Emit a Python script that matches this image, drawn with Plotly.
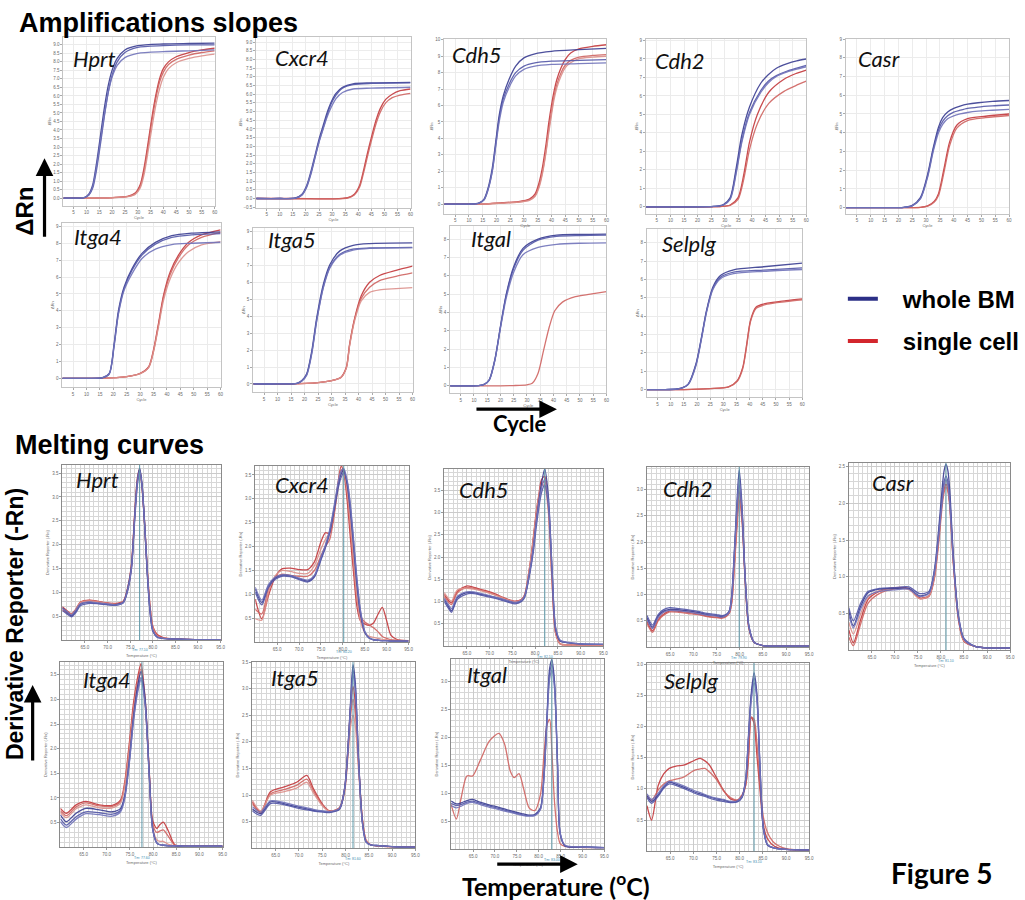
import plotly.graph_objects as go

W, H = 1025, 900

GENES = ["Hprt", "Cxcr4", "Cdh5", "Cdh2", "Casr", "Itga4", "Itga5", "Itgal", "Selplg"]
SERIES = ["whole BM", "single cell"]

# ---------------- Amplification curves (x = cycle, y = ΔRn) ----------------
HPRT_AMP_BX = [1, 5, 9, 11, 12.5, 14, 15.5, 17, 18.5, 20, 22, 25, 30, 40, 50, 60]
HPRT_AMP_BLUE = [
    [0, 0, 0.02, 0.25, 0.8, 2.1, 3.7, 5.3, 6.6, 7.5, 8.2, 8.7, 8.95, 9.05, 9.08, 9.1],
    [0, 0, 0.01, 0.18, 0.6, 1.7, 3.2, 4.8, 6.2, 7.2, 8.0, 8.55, 8.85, 8.95, 9.0, 9.0],
    [0, 0, 0.02, 0.2, 0.7, 1.9, 3.4, 4.9, 6.2, 7.1, 7.8, 8.25, 8.5, 8.6, 8.65, 8.7],
]
HPRT_AMP_RX = [1, 10, 20, 26, 29, 31, 32.5, 34, 35.5, 37, 38.5, 40, 42, 45, 50, 55, 60]
HPRT_AMP_RED = [
    [0, 0, 0.03, 0.1, 0.3, 0.8, 1.8, 3.2, 4.7, 6.0, 7.0, 7.6, 8.0, 8.3, 8.55, 8.7, 8.8],
    [0, 0, 0.02, 0.08, 0.25, 0.7, 1.6, 3.0, 4.5, 5.8, 6.8, 7.4, 7.85, 8.15, 8.4, 8.55, 8.65],
    [0, 0, 0.02, 0.08, 0.22, 0.6, 1.4, 2.7, 4.1, 5.4, 6.4, 7.1, 7.6, 7.95, 8.2, 8.35, 8.45],
]

CXCR4_AMP_BX = [1, 10, 16, 18.5, 20.3, 22, 23.5, 25, 26.6, 28, 29.5, 31.5, 34, 38, 45, 60]
CXCR4_AMP_BLUE = [
    [0, 0, 0.03, 0.25, 0.75, 1.6, 2.5, 3.4, 4.2, 4.9, 5.5, 6.05, 6.4, 6.6, 6.65, 6.68],
    [0, 0, 0.02, 0.2, 0.65, 1.45, 2.35, 3.25, 4.05, 4.75, 5.4, 5.95, 6.35, 6.55, 6.62, 6.65],
    [0, 0, 0.02, 0.2, 0.7, 1.5, 2.4, 3.25, 4.0, 4.65, 5.2, 5.75, 6.1, 6.3, 6.35, 6.4],
]
CXCR4_AMP_RX = [1, 15, 30, 36, 38.5, 40.5, 42, 43.5, 45, 46.8, 48.5, 50.5, 53, 56, 60]
CXCR4_AMP_RED = [
    [0, 0, -0.02, 0.05, 0.25, 0.75, 1.6, 2.6, 3.5, 4.5, 5.2, 5.7, 6.0, 6.2, 6.3],
    [0, -0.02, -0.02, 0.03, 0.2, 0.65, 1.45, 2.4, 3.3, 4.3, 5.0, 5.5, 5.8, 5.95, 6.05],
]

CDH5_AMP_BX = [1, 10, 13.5, 15.5, 17, 18.5, 19.9, 21, 22.5, 24.6, 27, 30, 34, 40, 50, 60]
CDH5_AMP_BLUE = [
    [0, 0, 0.05, 0.3, 1.0, 2.2, 4.0, 5.4, 6.6, 7.6, 8.4, 8.9, 9.15, 9.3, 9.4, 9.48],
    [0, 0, 0.04, 0.25, 0.9, 2.0, 3.8, 5.2, 6.4, 7.3, 8.0, 8.4, 8.6, 8.7, 8.75, 8.8],
    [0, 0, 0.04, 0.25, 0.9, 2.0, 3.7, 5.0, 6.2, 7.1, 7.8, 8.2, 8.4, 8.5, 8.55, 8.6],
]
CDH5_AMP_RX = [1, 15, 22, 28, 32, 34, 35.5, 36.8, 38, 39, 40, 41, 42, 43.5, 45, 47, 50, 55, 60]
CDH5_AMP_RED = [
    [0, 0, 0.08, 0.15, 0.3, 0.6, 1.3, 2.3, 3.6, 4.9, 6.0, 6.9, 7.6, 8.3, 8.8, 9.2, 9.45, 9.6, 9.7],
    [0, 0, 0.06, 0.12, 0.25, 0.5, 1.1, 2.0, 3.2, 4.5, 5.6, 6.6, 7.3, 8.0, 8.45, 8.75, 8.95, 9.05, 9.1],
    [0, 0, 0.06, 0.12, 0.22, 0.45, 1.0, 1.9, 3.1, 4.3, 5.4, 6.4, 7.1, 7.8, 8.3, 8.6, 8.85, 8.95, 9.0],
]

CDH2_AMP_BX = [1, 15, 26, 29.5, 32, 34.2, 36.3, 39.1, 43.3, 46, 49, 53, 56.5, 60]
CDH2_AMP_BLUE = [
    [0, 0, 0.02, 0.12, 0.5, 2.1, 3.9, 5.4, 6.7, 7.15, 7.5, 7.75, 7.9, 8.0],
    [0, 0, 0.02, 0.1, 0.45, 1.9, 3.6, 5.1, 6.3, 6.8, 7.1, 7.35, 7.5, 7.65],
    [0, 0, 0.02, 0.1, 0.4, 1.8, 3.5, 5.0, 6.2, 6.7, 7.05, 7.3, 7.45, 7.58],
]
CDH2_AMP_RX = [1, 20, 29, 32, 34.9, 37, 39.1, 42, 46.2, 51.8, 56, 60]
CDH2_AMP_RED = [
    [0, 0, 0.02, 0.1, 0.5, 1.75, 3.5, 5.0, 6.2, 6.9, 7.2, 7.4],
    [0, 0, 0.02, 0.08, 0.4, 1.5, 3.1, 4.5, 5.6, 6.25, 6.55, 6.8],
]

CASR_AMP_BX = [1, 15, 22, 25, 28, 30.6, 32.6, 34.5, 36, 37.8, 40, 42.3, 45, 48.8, 54, 60]
CASR_AMP_BLUE = [
    [0, 0, 0.02, 0.12, 0.55, 1.8, 3.2, 4.3, 4.8, 5.1, 5.3, 5.42, 5.52, 5.6, 5.67, 5.72],
    [0, 0, 0.02, 0.1, 0.5, 1.7, 3.1, 4.15, 4.6, 4.9, 5.1, 5.2, 5.3, 5.37, 5.43, 5.48],
    [0, 0, 0.02, 0.1, 0.48, 1.65, 3.0, 4.0, 4.45, 4.75, 4.9, 5.0, 5.08, 5.15, 5.2, 5.25],
]
CASR_AMP_RX = [1, 20, 28, 30.6, 33, 34.5, 36.5, 38.5, 41.1, 45, 51.5, 60]
CASR_AMP_RED = [
    [0, 0, 0.02, 0.1, 0.35, 0.75, 2.1, 3.5, 4.4, 4.75, 4.88, 5.0],
    [0, 0, 0.02, 0.08, 0.3, 0.65, 1.9, 3.3, 4.25, 4.65, 4.8, 4.92],
]

ITGA4_AMP_BX = [1, 10, 16, 18.5, 20.3, 21.9, 24, 27, 30.7, 35.7, 41.8, 49.2, 60]
ITGA4_AMP_BLUE = [
    [0, 0, 0.04, 0.3, 2.05, 4.0, 5.4, 6.5, 7.4, 8.05, 8.45, 8.6, 8.68],
    [0, 0, 0.03, 0.25, 1.9, 3.85, 5.3, 6.4, 7.3, 7.95, 8.35, 8.5, 8.57],
    [0, 0, 0.04, 0.28, 1.95, 3.8, 5.2, 6.2, 7.1, 7.65, 7.92, 8.0, 8.06],
]
ITGA4_AMP_RX = [1, 15, 25, 30, 33.2, 35, 36.9, 38.7, 41.2, 44.3, 48, 52.9, 60]
ITGA4_AMP_RED = [
    [0, 0, 0.1, 0.3, 0.7, 1.7, 3.3, 4.9, 6.3, 7.3, 8.05, 8.5, 8.8],
    [0, 0, 0.1, 0.28, 0.65, 1.6, 3.2, 4.8, 6.15, 7.15, 7.9, 8.35, 8.65],
    [0, 0, 0.1, 0.28, 0.65, 1.6, 3.1, 4.6, 5.9, 6.85, 7.5, 7.9, 8.1],
]

ITGA5_AMP_BX = [1, 10, 17.2, 19, 20.8, 22.7, 24.5, 27, 29.4, 33.1, 38, 44.1, 60]
ITGA5_AMP_BLUE = [
    [0, 0, 0.04, 0.2, 0.6, 1.96, 3.9, 5.9, 7.05, 7.85, 8.18, 8.28, 8.32],
    [0, 0, 0.03, 0.18, 0.55, 1.85, 3.75, 5.75, 6.9, 7.65, 7.95, 8.02, 8.06],
    [0, 0, 0.03, 0.17, 0.52, 1.8, 3.7, 5.7, 6.85, 7.6, 7.9, 8.0, 8.04],
]
ITGA5_AMP_RX = [1, 15, 25, 30, 33.5, 35.5, 36.7, 38.6, 41, 44.1, 47.8, 53.9, 60]
ITGA5_AMP_RED = [
    [0, 0, 0.08, 0.2, 0.4, 1.0, 2.35, 3.9, 5.2, 6.0, 6.4, 6.7, 6.95],
    [0, 0, 0.08, 0.2, 0.38, 0.95, 2.3, 3.85, 5.05, 5.7, 6.1, 6.35, 6.55],
    [0, 0, 0.08, 0.2, 0.38, 0.95, 2.25, 3.75, 4.9, 5.4, 5.55, 5.62, 5.68],
]

ITGAL_AMP_BX = [1, 8, 12.3, 14, 15.8, 17.9, 20, 22.2, 25, 28.5, 34.2, 41.2, 50, 60]
ITGAL_AMP_BLUE = [
    [0, 0, 0.03, 0.1, 0.35, 1.45, 3.25, 5.0, 6.5, 7.5, 8.0, 8.22, 8.26, 8.28],
    [0, 0, 0.03, 0.09, 0.32, 1.4, 3.2, 4.95, 6.4, 7.4, 7.95, 8.15, 8.2, 8.22],
    [0, 0, 0.03, 0.1, 0.33, 1.4, 3.15, 4.8, 6.2, 7.15, 7.55, 7.72, 7.78, 7.8],
]
ITGAL_AMP_RX = [1, 15, 25, 30, 32, 34.2, 36.3, 38.4, 40.5, 43.4, 48.3, 53.9, 60]
ITGAL_AMP_RED = [
    [0, 0, 0.02, 0.06, 0.14, 0.69, 1.95, 3.2, 4.1, 4.57, 4.87, 5.0, 5.14],
]

SELPLG_AMP_BX = [1, 8, 12.4, 14.5, 16.7, 19.6, 21.7, 23.6, 26, 28.9, 33.9, 45.3, 60]
SELPLG_AMP_BLUE = [
    [0, 0, 0.03, 0.1, 0.31, 1.4, 2.85, 4.3, 5.58, 6.22, 6.53, 6.7, 6.9],
    [0, 0, 0.03, 0.09, 0.28, 1.35, 2.8, 4.25, 5.5, 6.12, 6.4, 6.52, 6.64],
    [0, 0, 0.02, 0.09, 0.28, 1.3, 2.75, 4.2, 5.45, 6.05, 6.32, 6.45, 6.55],
]
SELPLG_AMP_RX = [1, 15, 25, 32, 35.3, 37.4, 38.9, 40.3, 42.4, 46.7, 53.9, 60]
SELPLG_AMP_RED = [
    [0, 0, 0.05, 0.15, 0.49, 1.22, 2.49, 3.76, 4.49, 4.71, 4.85, 4.95],
    [0, 0, 0.05, 0.14, 0.45, 1.15, 2.4, 3.7, 4.42, 4.66, 4.8, 4.9],
]

# ---------------- Melting curves (x = temperature °C, y = -dRn/dT) ----------------
HPRT_MELT_T = [60, 61, 62, 63, 64, 66, 68, 70, 72, 73.5, 74.5, 75.3, 76, 76.6, 77.1, 77.6, 78.2, 78.8, 79.4, 80, 81, 83, 86, 90, 95]
HPRT_MELT_BLUE = [
    [0.68, 0.59, 0.51, 0.61, 0.75, 0.79, 0.77, 0.75, 0.75, 0.80, 1.10, 1.55, 2.60, 3.35, 3.60, 3.30, 2.45, 1.40, 0.60, 0.20, 0.06, 0.03, 0.02, 0.01, 0.01],
    [0.62, 0.55, 0.49, 0.58, 0.72, 0.77, 0.76, 0.74, 0.73, 0.78, 1.05, 1.50, 2.50, 3.25, 3.52, 3.25, 2.40, 1.35, 0.58, 0.19, 0.06, 0.03, 0.02, 0.01, 0.01],
    [0.66, 0.60, 0.53, 0.63, 0.76, 0.80, 0.78, 0.76, 0.74, 0.79, 1.08, 1.52, 2.55, 3.30, 3.56, 3.28, 2.44, 1.42, 0.62, 0.21, 0.07, 0.03, 0.02, 0.01, 0.01],
]
HPRT_MELT_RED = [
    [0.70, 0.62, 0.55, 0.65, 0.80, 0.84, 0.81, 0.78, 0.77, 0.82, 1.12, 1.60, 2.65, 3.40, 3.58, 3.22, 2.42, 1.45, 0.70, 0.28, 0.12, 0.04, 0.02, 0.01, 0.01],
    [0.64, 0.57, 0.52, 0.62, 0.78, 0.83, 0.80, 0.77, 0.76, 0.80, 1.08, 1.55, 2.58, 3.32, 3.55, 3.24, 2.45, 1.48, 0.72, 0.30, 0.10, 0.03, 0.02, 0.01, 0.01],
    [0.67, 0.60, 0.54, 0.64, 0.79, 0.82, 0.80, 0.77, 0.75, 0.81, 1.10, 1.58, 2.62, 3.36, 3.57, 3.28, 2.40, 1.40, 0.65, 0.25, 0.08, 0.03, 0.02, 0.01, 0.01],
]

CXCR4_MELT_T = [60, 61.5, 63, 64.5, 66, 68, 70, 72, 73.5, 75, 76, 77, 78, 79, 79.6, 80.2, 81, 81.7, 82.4, 83.2, 84, 85, 86, 87, 88, 89, 90, 91, 92.5, 95]
CXCR4_MELT_BLUE = [
    [1.11, 0.83, 1.18, 1.34, 1.40, 1.39, 1.33, 1.28, 1.38, 1.75, 2.00, 2.32, 2.80, 3.32, 3.52, 3.61, 3.30, 2.75, 2.05, 1.20, 0.60, 0.20, 0.08, 0.05, 0.04, 0.03, 0.03, 0.02, 0.02, 0.02],
    [1.05, 0.78, 1.14, 1.31, 1.38, 1.37, 1.31, 1.26, 1.36, 1.72, 1.97, 2.28, 2.75, 3.25, 3.45, 3.55, 3.35, 2.85, 2.15, 1.30, 0.65, 0.22, 0.09, 0.05, 0.04, 0.03, 0.03, 0.02, 0.02, 0.02],
    [1.15, 0.88, 1.20, 1.36, 1.41, 1.40, 1.34, 1.30, 1.40, 1.78, 2.03, 2.35, 2.85, 3.38, 3.58, 3.64, 3.38, 2.90, 2.20, 1.35, 0.68, 0.23, 0.09, 0.05, 0.04, 0.03, 0.03, 0.02, 0.02, 0.02],
]
CXCR4_MELT_RED = [
    [0.90, 0.49, 0.97, 1.35, 1.53, 1.55, 1.52, 1.52, 1.68, 2.10, 2.29, 2.28, 2.70, 3.40, 3.68, 3.55, 2.95, 2.20, 1.50, 0.75, 0.45, 0.38, 0.35, 0.40, 0.58, 0.73, 0.45, 0.14, 0.05, 0.03],
    [0.69, 0.59, 1.11, 1.35, 1.42, 1.40, 1.38, 1.38, 1.50, 1.81, 2.00, 2.15, 2.65, 3.30, 3.60, 3.60, 3.10, 2.40, 1.70, 0.90, 0.55, 0.42, 0.36, 0.30, 0.22, 0.12, 0.08, 0.05, 0.04, 0.03],
    [0.49, 0.46, 1.04, 1.38, 1.50, 1.48, 1.44, 1.44, 1.60, 1.95, 2.15, 2.30, 2.75, 3.35, 3.58, 3.55, 3.15, 2.50, 1.75, 0.95, 0.45, 0.20, 0.12, 0.10, 0.08, 0.06, 0.05, 0.04, 0.03, 0.03],
]

CDH5_MELT_T = [60, 61, 61.6, 62.9, 64.9, 66.5, 68.2, 70.5, 72.4, 74, 75.6, 77, 77.7, 78.9, 79.6, 80.2, 80.8, 81.4, 82.1, 82.9, 83.7, 84.5, 85.5, 87, 90, 95]
CDH5_MELT_BLUE = [
    [1.05, 0.88, 0.79, 1.09, 1.20, 1.20, 1.16, 1.11, 1.06, 1.01, 0.97, 1.02, 1.12, 1.72, 2.20, 2.77, 3.25, 3.66, 3.98, 3.36, 1.72, 0.37, 0.11, 0.08, 0.05, 0.04],
    [1.00, 0.84, 0.76, 1.05, 1.17, 1.18, 1.14, 1.09, 1.04, 0.99, 0.95, 1.00, 1.10, 1.68, 2.12, 2.65, 3.10, 3.45, 3.62, 3.15, 1.70, 0.40, 0.12, 0.08, 0.05, 0.04],
    [1.08, 0.92, 0.84, 1.12, 1.22, 1.22, 1.18, 1.12, 1.07, 1.02, 0.98, 1.03, 1.13, 1.74, 2.22, 2.75, 3.20, 3.55, 3.75, 3.25, 1.75, 0.42, 0.13, 0.09, 0.05, 0.04],
]
CDH5_MELT_RED = [
    [1.16, 1.02, 0.97, 1.23, 1.35, 1.32, 1.27, 1.20, 1.12, 1.05, 1.01, 1.05, 1.16, 1.87, 2.45, 2.99, 3.40, 3.74, 3.81, 3.14, 1.50, 0.30, 0.05, 0.03, 0.03, 0.02],
    [1.12, 0.98, 0.93, 1.20, 1.32, 1.30, 1.25, 1.18, 1.10, 1.04, 1.00, 1.04, 1.14, 1.82, 2.40, 2.92, 3.32, 3.62, 3.70, 3.10, 1.48, 0.28, 0.05, 0.03, 0.03, 0.02],
    [1.20, 1.06, 1.01, 1.26, 1.30, 1.28, 1.24, 1.17, 1.10, 1.04, 1.00, 1.04, 1.15, 1.85, 2.42, 2.95, 3.36, 3.65, 3.58, 3.00, 1.45, 0.29, 0.05, 0.03, 0.03, 0.02],
]

CDH2_MELT_T = [60, 61.2, 62.4, 63.5, 64.9, 67, 68.9, 71, 73, 75, 76.2, 77.2, 77.8, 78.3, 78.8, 79.4, 79.9, 80.5, 81.2, 82, 83.1, 85, 88, 91, 95]
CDH2_MELT_BLUE = [
    [0.56, 0.38, 0.59, 0.68, 0.72, 0.71, 0.69, 0.66, 0.62, 0.60, 0.58, 0.62, 0.69, 1.00, 1.75, 2.75, 3.38, 2.69, 1.31, 0.38, 0.09, 0.03, 0.02, 0.02, 0.02],
    [0.60, 0.42, 0.62, 0.71, 0.75, 0.73, 0.71, 0.68, 0.64, 0.62, 0.60, 0.63, 0.70, 0.98, 1.70, 2.60, 3.10, 2.55, 1.28, 0.40, 0.10, 0.03, 0.02, 0.02, 0.02],
    [0.52, 0.35, 0.56, 0.66, 0.70, 0.69, 0.67, 0.64, 0.61, 0.59, 0.57, 0.61, 0.68, 0.97, 1.68, 2.65, 3.20, 2.62, 1.30, 0.39, 0.09, 0.03, 0.02, 0.02, 0.02],
]
CDH2_MELT_RED = [
    [0.49, 0.31, 0.52, 0.62, 0.69, 0.68, 0.66, 0.63, 0.59, 0.57, 0.56, 0.60, 0.66, 0.87, 1.50, 2.37, 2.97, 2.50, 1.25, 0.35, 0.09, 0.03, 0.02, 0.02, 0.02],
    [0.45, 0.28, 0.50, 0.60, 0.67, 0.66, 0.64, 0.62, 0.58, 0.56, 0.55, 0.59, 0.65, 0.85, 1.45, 2.25, 2.80, 2.38, 1.22, 0.36, 0.09, 0.03, 0.02, 0.02, 0.02],
    [0.53, 0.36, 0.57, 0.66, 0.71, 0.70, 0.68, 0.65, 0.61, 0.59, 0.58, 0.62, 0.68, 0.92, 1.58, 2.50, 3.05, 2.58, 1.28, 0.37, 0.09, 0.03, 0.02, 0.02, 0.02],
]

CASR_MELT_T = [60, 61, 62.6, 64.2, 66.6, 69.8, 73, 75.4, 77.4, 78.6, 79.5, 80.3, 80.7, 81.1, 81.5, 81.9, 82.7, 83.8, 85, 87.4, 90, 95]
CASR_MELT_BLUE = [
    [0.53, 0.33, 0.60, 0.78, 0.83, 0.84, 0.84, 0.74, 0.78, 1.10, 1.64, 2.23, 2.45, 2.53, 2.45, 2.19, 1.28, 0.46, 0.15, 0.05, 0.03, 0.03],
    [0.58, 0.40, 0.64, 0.80, 0.84, 0.85, 0.86, 0.77, 0.80, 1.08, 1.58, 2.10, 2.30, 2.37, 2.30, 2.08, 1.25, 0.47, 0.16, 0.05, 0.03, 0.03],
    [0.48, 0.30, 0.56, 0.74, 0.80, 0.82, 0.83, 0.73, 0.77, 1.06, 1.55, 2.05, 2.25, 2.32, 2.25, 2.02, 1.22, 0.45, 0.15, 0.05, 0.03, 0.03],
]
CASR_MELT_RED = [
    [0.28, 0.10, 0.42, 0.69, 0.80, 0.85, 0.84, 0.71, 0.74, 1.01, 1.51, 2.05, 2.20, 2.26, 2.20, 2.00, 1.19, 0.42, 0.12, 0.05, 0.03, 0.03],
    [0.18, 0.06, 0.36, 0.64, 0.77, 0.83, 0.83, 0.70, 0.73, 0.98, 1.45, 1.98, 2.15, 2.22, 2.16, 1.96, 1.17, 0.42, 0.12, 0.05, 0.03, 0.03],
    [0.38, 0.22, 0.50, 0.72, 0.81, 0.84, 0.83, 0.70, 0.74, 1.02, 1.53, 2.08, 2.25, 2.32, 2.24, 2.04, 1.22, 0.44, 0.13, 0.05, 0.03, 0.03],
]

ITGA4_MELT_T = [60, 61.3, 63.4, 65.5, 68.4, 71.2, 73, 73.9, 74.9, 75.8, 76.8, 77.4, 78.3, 79.2, 79.9, 80.8, 81.5, 82.2, 83.3, 84.7, 87, 90, 95]
ITGA4_MELT_BLUE = [
    [0.66, 0.52, 0.69, 0.79, 0.76, 0.72, 0.79, 1.06, 1.80, 2.67, 3.34, 3.57, 3.00, 1.46, 0.39, 0.09, 0.05, 0.04, 0.03, 0.03, 0.02, 0.02, 0.02],
    [0.58, 0.45, 0.62, 0.72, 0.70, 0.67, 0.75, 1.02, 1.75, 2.60, 3.25, 3.45, 2.92, 1.42, 0.38, 0.09, 0.05, 0.04, 0.03, 0.03, 0.02, 0.02, 0.02],
    [0.52, 0.40, 0.57, 0.68, 0.66, 0.63, 0.72, 0.99, 1.72, 2.58, 3.20, 3.40, 2.88, 1.40, 0.37, 0.09, 0.05, 0.04, 0.03, 0.03, 0.02, 0.02, 0.02],
]
ITGA4_MELT_RED = [
    [0.79, 0.69, 0.86, 0.93, 0.86, 0.85, 0.96, 1.33, 2.13, 2.94, 3.51, 3.73, 3.00, 1.50, 0.55, 0.38, 0.46, 0.51, 0.33, 0.05, 0.02, 0.02, 0.02],
    [0.74, 0.64, 0.82, 0.90, 0.84, 0.83, 0.93, 1.28, 2.05, 2.85, 3.42, 3.62, 2.95, 1.48, 0.48, 0.30, 0.33, 0.35, 0.22, 0.04, 0.02, 0.02, 0.02],
    [0.70, 0.60, 0.78, 0.86, 0.80, 0.80, 0.90, 1.25, 2.00, 2.80, 3.38, 3.55, 2.92, 1.45, 0.42, 0.15, 0.12, 0.12, 0.06, 0.03, 0.02, 0.02, 0.02],
]

ITGA5_MELT_T = [60, 61.8, 63.9, 66.7, 69.5, 71.7, 73.1, 75.2, 76.6, 78.7, 79.8, 80.5, 81.1, 81.6, 82.1, 82.8, 83.6, 84.4, 85.5, 87.2, 90, 95]
ITGA5_MELT_BLUE = [
    [0.74, 0.65, 0.87, 0.84, 0.78, 0.74, 0.71, 0.69, 0.68, 0.74, 1.12, 1.86, 2.79, 3.45, 3.10, 1.68, 0.50, 0.12, 0.06, 0.05, 0.03, 0.02],
    [0.70, 0.62, 0.84, 0.82, 0.76, 0.72, 0.70, 0.68, 0.67, 0.73, 1.10, 1.82, 2.72, 3.35, 3.02, 1.65, 0.50, 0.12, 0.06, 0.05, 0.03, 0.02],
    [0.78, 0.68, 0.89, 0.86, 0.80, 0.76, 0.73, 0.70, 0.69, 0.75, 1.13, 1.84, 2.70, 3.25, 2.95, 1.62, 0.49, 0.12, 0.06, 0.05, 0.03, 0.02],
]
ITGA5_MELT_RED = [
    [0.87, 0.68, 1.06, 1.15, 1.24, 1.37, 1.12, 0.81, 0.70, 0.76, 1.12, 1.86, 2.67, 3.04, 2.73, 1.62, 0.56, 0.15, 0.06, 0.04, 0.03, 0.02],
    [0.84, 0.66, 1.02, 1.10, 1.18, 1.30, 1.08, 0.80, 0.70, 0.75, 1.08, 1.78, 2.50, 2.80, 2.55, 1.55, 0.55, 0.15, 0.06, 0.04, 0.03, 0.02],
    [0.90, 0.70, 1.00, 1.06, 1.13, 1.24, 1.04, 0.78, 0.69, 0.75, 1.05, 1.70, 2.30, 2.50, 2.30, 1.45, 0.53, 0.15, 0.06, 0.04, 0.03, 0.02],
]

ITGAL_MELT_T = [60, 61.2, 62.3, 63.6, 64.9, 66.6, 68.8, 70.9, 72.2, 73.5, 74.4, 75.5, 76.5, 77.8, 79.1, 80.4, 81.2, 81.9, 82.5, 83, 83.6, 84.3, 84.9, 86, 90.3, 95]
ITGAL_MELT_BLUE = [
    [0.86, 0.81, 0.83, 0.87, 0.89, 0.84, 0.79, 0.75, 0.72, 0.69, 0.67, 0.65, 0.63, 0.61, 0.62, 0.74, 1.34, 2.41, 3.24, 3.39, 3.00, 1.52, 0.27, 0.06, 0.04, 0.03],
    [0.82, 0.78, 0.80, 0.84, 0.86, 0.82, 0.77, 0.73, 0.70, 0.67, 0.65, 0.63, 0.61, 0.60, 0.61, 0.72, 1.30, 2.35, 3.15, 3.30, 2.95, 1.50, 0.28, 0.06, 0.04, 0.03],
    [0.78, 0.74, 0.77, 0.82, 0.84, 0.80, 0.75, 0.71, 0.68, 0.66, 0.64, 0.62, 0.60, 0.59, 0.60, 0.71, 1.28, 2.30, 3.05, 3.20, 2.88, 1.48, 0.29, 0.07, 0.04, 0.03],
]
ITGAL_MELT_RED = [
    [0.80, 0.54, 0.92, 1.31, 1.31, 1.58, 1.94, 2.07, 1.88, 1.40, 1.28, 1.35, 1.10, 0.74, 0.69, 0.98, 1.70, 2.23, 2.32, 1.75, 0.85, 0.30, 0.10, 0.05, 0.03, 0.03],
]

SELPLG_MELT_T = [60, 61, 62.4, 63.6, 64.8, 66.5, 67.9, 70.3, 71.5, 72.5, 73.5, 75, 76.5, 78, 79.5, 80.5, 81.3, 81.9, 82.5, 83.1, 83.7, 84.4, 85.1, 86, 87.5, 90, 95]
SELPLG_MELT_BLUE = [
    [0.89, 0.80, 0.90, 1.03, 1.11, 1.07, 1.03, 0.95, 0.92, 0.90, 0.87, 0.84, 0.82, 0.79, 0.80, 0.87, 1.16, 1.86, 2.54, 2.86, 2.54, 1.33, 0.37, 0.10, 0.05, 0.03, 0.02],
    [0.86, 0.77, 0.88, 1.01, 1.08, 1.05, 1.01, 0.93, 0.90, 0.88, 0.85, 0.82, 0.80, 0.78, 0.79, 0.86, 1.14, 1.82, 2.48, 2.78, 2.48, 1.30, 0.37, 0.10, 0.05, 0.03, 0.02],
    [0.92, 0.83, 0.93, 1.05, 1.12, 1.09, 1.05, 0.97, 0.94, 0.91, 0.88, 0.85, 0.83, 0.80, 0.81, 0.88, 1.15, 1.80, 2.42, 2.70, 2.45, 1.30, 0.38, 0.11, 0.05, 0.03, 0.02],
]
SELPLG_MELT_RED = [
    [0.73, 0.50, 1.05, 1.24, 1.33, 1.37, 1.38, 1.46, 1.49, 1.45, 1.38, 1.18, 0.98, 0.84, 0.82, 0.90, 1.06, 1.49, 2.15, 2.05, 1.55, 0.96, 0.42, 0.20, 0.08, 0.03, 0.02],
    [0.89, 0.82, 0.98, 1.08, 1.13, 1.16, 1.19, 1.30, 1.32, 1.33, 1.27, 1.15, 0.97, 0.86, 0.82, 0.88, 1.06, 1.55, 2.15, 2.12, 1.75, 1.06, 0.55, 0.30, 0.13, 0.04, 0.02],
]

MELT_TM = [77.1, 80.2, 82.1, 79.9, 81.1, 77.6, 81.6, 83.0, 83.1]

AMP_DATA = [
    (HPRT_AMP_BX, HPRT_AMP_BLUE, HPRT_AMP_RX, HPRT_AMP_RED),
    (CXCR4_AMP_BX, CXCR4_AMP_BLUE, CXCR4_AMP_RX, CXCR4_AMP_RED),
    (CDH5_AMP_BX, CDH5_AMP_BLUE, CDH5_AMP_RX, CDH5_AMP_RED),
    (CDH2_AMP_BX, CDH2_AMP_BLUE, CDH2_AMP_RX, CDH2_AMP_RED),
    (CASR_AMP_BX, CASR_AMP_BLUE, CASR_AMP_RX, CASR_AMP_RED),
    (ITGA4_AMP_BX, ITGA4_AMP_BLUE, ITGA4_AMP_RX, ITGA4_AMP_RED),
    (ITGA5_AMP_BX, ITGA5_AMP_BLUE, ITGA5_AMP_RX, ITGA5_AMP_RED),
    (ITGAL_AMP_BX, ITGAL_AMP_BLUE, ITGAL_AMP_RX, ITGAL_AMP_RED),
    (SELPLG_AMP_BX, SELPLG_AMP_BLUE, SELPLG_AMP_RX, SELPLG_AMP_RED),
]
MELT_DATA = [
    (HPRT_MELT_T, HPRT_MELT_BLUE, HPRT_MELT_RED),
    (CXCR4_MELT_T, CXCR4_MELT_BLUE, CXCR4_MELT_RED),
    (CDH5_MELT_T, CDH5_MELT_BLUE, CDH5_MELT_RED),
    (CDH2_MELT_T, CDH2_MELT_BLUE, CDH2_MELT_RED),
    (CASR_MELT_T, CASR_MELT_BLUE, CASR_MELT_RED),
    (ITGA4_MELT_T, ITGA4_MELT_BLUE, ITGA4_MELT_RED),
    (ITGA5_MELT_T, ITGA5_MELT_BLUE, ITGA5_MELT_RED),
    (ITGAL_MELT_T, ITGAL_MELT_BLUE, ITGAL_MELT_RED),
    (SELPLG_MELT_T, SELPLG_MELT_BLUE, SELPLG_MELT_RED),
]

# ---------------- layout / styles (pixel frames: x0, x1, y0(top), y1(bottom)) ----------------
AMP_FRAMES = [(64, 217, 35, 205), (259, 415, 35, 207), (449, 613, 37, 213), (653, 815, 37, 213),
              (855, 1020, 37, 213), (63, 223, 222, 387), (256, 417, 227, 392), (455, 613, 225, 393),
              (654, 811, 228, 397)]
AMP_YAX = [(-0.47, 9.47, 0.5, ".1f"), (-0.55, 9.3, 0.5, ".1f"), (-0.61, 10.06, 1, "d"), (-0.39, 9.09, 1, "d"),
           (-0.34, 9.01, 1, "d"), (-0.53, 9.2, 1, "d"), (-0.49, 9.2, 1, "d"), (-0.4, 8.72, 1, "d"),
           (-0.42, 8.76, 1, "d")]
AMP_LABEL_POS = [(72, 57), (276, 56), (455, 53), (660, 59), (865, 57), (73, 236), (269, 239), (474, 238), (667, 243)]

MELT_FRAMES = [(63, 223, 465, 641), (258, 413, 466, 643), (449, 610, 469, 647), (654, 818, 467, 648),
               (858, 1021, 463, 651), (61, 225, 663, 849), (255, 420, 663, 850), (456, 611, 660, 851),
               (654, 818, 664, 853)]
MELT_YTOP = [3.67, 3.69, 3.98, 3.43, 2.55, 3.76, 3.5, 3.4, 3.02]
MELT_LABEL_POS = [(75, 480), (276, 485), (462, 490), (668, 489), (879, 483), (82, 681), (272, 679), (470, 676), (669, 682)]

BLUE_SHADES = ["#3a3d92", "#5357a8", "#7073ba"]
RED_SHADES = ["#c43b3e", "#d06663", "#dc918c"]
LEGEND_BLUE = "#2b2f86"
LEGEND_RED = "#d3262d"

TICKFONT = dict(family="Liberation Sans", size=4.5, color="#6a6a6a")
TINYFONT = dict(family="Liberation Sans", size=4, color="#6a6a6a")
LABELFONT = dict(family="Lato", size=22, color="#111111", style="italic")


def fx(p):
    return p / W


def fy(p):
    return 1 - p / H


fig = go.Figure()
layout_axes = {}
annotations = []
shapes = []


def axis_ids(n):
    return ("x" if n == 1 else f"x{n}", "y" if n == 1 else f"y{n}",
            "xaxis" if n == 1 else f"xaxis{n}", "yaxis" if n == 1 else f"yaxis{n}")


def add_curves(xid, yid, xs, curves, shades):
    offset = 1 if len(curves) == 1 else 0
    for i, ys in enumerate(curves):
        fig.add_trace(go.Scatter(
            x=xs, y=ys, mode="lines", xaxis=xid, yaxis=yid, showlegend=False, hoverinfo="skip",
            line=dict(color=shades[(i + offset) % len(shades)], width=1.3, shape="spline", smoothing=0.75),
            opacity=0.9))


n = 0
# amplification panels
for k, gene in enumerate(GENES):
    n += 1
    xid, yid, xa, ya = axis_ids(n)
    x0, x1, y0, y1 = AMP_FRAMES[k]
    ylo, yhi, ydt, yfmt = AMP_YAX[k]
    bx, blue, rx, red = AMP_DATA[k]
    add_curves(xid, yid, rx, red, RED_SHADES)
    add_curves(xid, yid, bx, blue, BLUE_SHADES)
    layout_axes[xa] = dict(domain=[fx(x0), fx(x1)], anchor=yid, range=[1, 60], tick0=0, dtick=5,
                           showgrid=True, gridcolor="#ececec", gridwidth=0.8, zeroline=False,
                           showline=True, mirror=True, linecolor="#c4c4c4", linewidth=1,
                           ticks="outside", ticklen=2, tickwidth=0.5, tickcolor="#aaa",
                           tickfont=TICKFONT, title=dict(text="Cycle", font=TINYFONT, standoff=1),
                           fixedrange=True)
    layout_axes[ya] = dict(domain=[fy(y1), fy(y0)], anchor=xid, range=[ylo, yhi], tick0=0, dtick=ydt,
                           tickformat=yfmt, showgrid=True, gridcolor="#ececec", gridwidth=0.8,
                           zeroline=False, showline=True, mirror=True, linecolor="#c4c4c4", linewidth=1,
                           ticks="outside", ticklen=2, tickwidth=0.5, tickcolor="#aaa",
                           tickfont=TICKFONT, title=dict(text="ΔRn", font=TINYFONT, standoff=1),
                           fixedrange=True)
    lx, ly = AMP_LABEL_POS[k]
    annotations.append(dict(text=gene, x=fx(lx), y=fy(ly), xref="paper", yref="paper",
                            xanchor="left", yanchor="middle", showarrow=False, font=LABELFONT))

# melting panels
for k, gene in enumerate(GENES):
    n += 1
    xid, yid, xa, ya = axis_ids(n)
    x0, x1, y0, y1 = MELT_FRAMES[k]
    ytop = MELT_YTOP[k]
    tx, blue, red = MELT_DATA[k]
    add_curves(xid, yid, tx, red, RED_SHADES)
    add_curves(xid, yid, tx, blue, BLUE_SHADES)
    yt = [v / 2 for v in range(1, int(ytop * 2) + 1)]
    layout_axes[xa] = dict(domain=[fx(x0), fx(x1)], anchor=yid, range=[60, 95],
                           tickvals=[65, 70, 75, 80, 85, 90, 95],
                           ticktext=["65.0", "70.0", "75.0", "80.0", "85.0", "90.0", "95.0"],
                           showgrid=True, gridcolor="#cbcbcb", gridwidth=0.7, zeroline=False,
                           minor=dict(tick0=60, dtick=1, showgrid=True, gridcolor="#d8d8d8", gridwidth=0.6),
                           showline=True, mirror=True, linecolor="#8a8a8a", linewidth=1,
                           ticks="outside", ticklen=2, tickwidth=0.5, tickcolor="#999",
                           tickfont=TICKFONT, title=dict(text="Temperature (°C)", font=TINYFONT, standoff=5),
                           fixedrange=True)
    layout_axes[ya] = dict(domain=[fy(y1), fy(y0)], anchor=xid, range=[0, ytop],
                           tickvals=yt, ticktext=[f"{v:.1f}" for v in yt],
                           showgrid=True, gridcolor="#cbcbcb", gridwidth=0.7, zeroline=False,
                           minor=dict(tick0=0, dtick=0.1, showgrid=True, gridcolor="#d8d8d8", gridwidth=0.6),
                           showline=True, mirror=True, linecolor="#8a8a8a", linewidth=1,
                           ticks="outside", ticklen=2, tickwidth=0.5, tickcolor="#999",
                           tickfont=TICKFONT,
                           title=dict(text="Derivative Reporter (-Rn)", font=TINYFONT, standoff=2),
                           fixedrange=True)
    tm = MELT_TM[k]
    shapes.append(dict(type="line", xref=xid, yref=f"{yid} domain", x0=tm, x1=tm, y0=0, y1=1,
                       line=dict(color="#5d98a8", width=1)))
    annotations.append(dict(text=f"Tm: {tm:.2f}", x=tm, y=-0.036, xref=xid, yref=f"{yid} domain",
                            xanchor="center", yanchor="top", showarrow=False,
                            font=dict(family="Liberation Sans", size=3.5, color="#3b8db0")))
    lx, ly = MELT_LABEL_POS[k]
    annotations.append(dict(text=gene, x=fx(lx), y=fy(ly), xref="paper", yref="paper",
                            xanchor="left", yanchor="middle", showarrow=False, font=LABELFONT))

# legend entries (series keys)
fig.add_trace(go.Scatter(x=[None], y=[None], mode="lines", name="\u00a0\u00a0\u00a0" + SERIES[0],
                         line=dict(color=LEGEND_BLUE, width=4), legendgroup="a", xaxis="x", yaxis="y"))
fig.add_trace(go.Scatter(x=[None], y=[None], mode="lines", name="\u00a0\u00a0\u00a0" + SERIES[1],
                         line=dict(color=LEGEND_RED, width=4), legendgroup="b", xaxis="x", yaxis="y"))

BOLD_ARIAL = dict(family="Liberation Sans", color="black", weight="bold")
BOLD_CAL = dict(family="Lato", color="black", weight="bold")

annotations += [
    dict(text="Amplifications slopes", x=fx(17), y=fy(21), xanchor="left", yanchor="middle",
         font=dict(size=27, **BOLD_ARIAL)),
    dict(text="Melting curves", x=fx(13), y=fy(445), xanchor="left", yanchor="middle",
         font=dict(size=27, **BOLD_ARIAL)),
    dict(text="ΔRn", x=fx(24), y=fy(210), xanchor="center", yanchor="middle", textangle=-90,
         font=dict(size=24, **BOLD_ARIAL)),
    dict(text="Derivative Reporter (-Rn)", x=fx(15), y=fy(625), xanchor="center", yanchor="middle",
         textangle=-90, font=dict(size=23, **BOLD_ARIAL)),
    dict(text="Cycle", x=fx(526), y=fy(423), xanchor="center", yanchor="middle",
         font=dict(size=22, **BOLD_CAL)),
    dict(text="Temperature (<sup>o</sup>C)", x=fx(562), y=fy(886), xanchor="center", yanchor="middle",
         font=dict(size=25, **BOLD_CAL)),
    dict(text="Figure 5", x=fx(952), y=fy(875), xanchor="center", yanchor="middle",
         font=dict(size=28, **BOLD_CAL)),
]
for a in annotations:
    a.setdefault("xref", "paper")
    a.setdefault("yref", "paper")
    a.setdefault("showarrow", False)

# arrows
ARROWS = [((45, 157), 0, 80), ((33, 686), 0, 77), ((563, 409), -82, 0), ((584, 866), -82, 0)]
for (hx, hy), ax, ay in ARROWS:
    annotations.append(dict(text="", x=fx(hx), y=fy(hy), xref="paper", yref="paper", showarrow=True,
                            ax=ax, ay=ay, arrowhead=2, arrowsize=1.1, arrowwidth=3.2, arrowcolor="black"))

fig.update_layout(
    width=W, height=H, margin=dict(l=0, r=0, t=0, b=0),
    paper_bgcolor="white", plot_bgcolor="white",
    showlegend=True,
    legend=dict(x=fx(852), y=fy(276), xanchor="left", yanchor="top", bgcolor="rgba(0,0,0,0)",
                font=dict(family="Liberation Sans", size=24, color="black", weight="bold"),
                tracegroupgap=8, itemwidth=30, traceorder="grouped"),
    annotations=annotations, shapes=shapes,
    **layout_axes,
)

fig.write_html("out.html")
